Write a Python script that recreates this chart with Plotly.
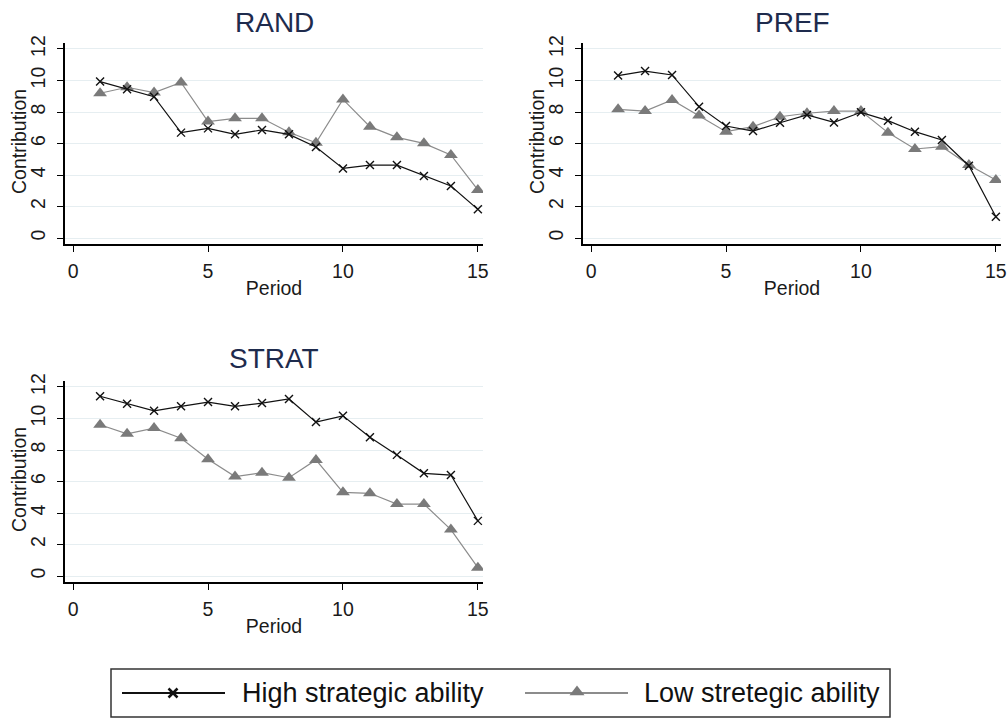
import plotly.graph_objects as go

periods = list(range(1, 16))

rand_high = [9.93, 9.44, 8.97, 6.69, 6.96, 6.58, 6.86, 6.58, 5.78, 4.42, 4.63, 4.63, 3.94, 3.30, 1.82]
rand_low = [9.19, 9.57, 9.23, 9.88, 7.39, 7.60, 7.60, 6.71, 6.05, 8.80, 7.07, 6.39, 6.01, 5.27, 3.05]

pref_high = [10.31, 10.60, 10.35, 8.34, 7.11, 6.79, 7.32, 7.81, 7.34, 7.98, 7.45, 6.75, 6.22, 4.59, 1.35]
pref_low = [8.17, 8.06, 8.76, 7.77, 6.75, 7.07, 7.70, 7.92, 8.06, 8.06, 6.69, 5.65, 5.80, 4.63, 3.68]

strat_high = [11.41, 10.94, 10.49, 10.77, 11.04, 10.77, 10.98, 11.24, 9.77, 10.17, 8.81, 7.69, 6.52, 6.41, 3.50]
strat_low = [9.60, 9.03, 9.39, 8.75, 7.41, 6.31, 6.56, 6.24, 7.37, 5.31, 5.25, 4.57, 4.57, 2.95, 0.53]

panel_titles = ["RAND", "PREF", "STRAT"]
series_names = ["High strategic ability", "Low stretegic ability"]
x_ticks = [0, 5, 10, 15]
y_ticks = [0, 2, 4, 6, 8, 10, 12]

W, H = 1008, 720
FONT = "Liberation Sans, Arial, sans-serif"
TEXT = "#1a1a1a"
TITLE_C = "#1e2b4d"
HIGH_C = "#111111"
LOW_LINE = "#8c8c8c"
LOW_MARK = "#7a7a7a"
GRID = "#e6eef1"
AX_FS = 19.5

panels = [
    (panel_titles[0], rand_high, rand_low, "x", "y"),
    (panel_titles[1], pref_high, pref_low, "x2", "y2"),
    (panel_titles[2], strat_high, strat_low, "x3", "y3"),
]

fig = go.Figure()
for title, hi, lo, xa, ya in panels:
    fig.add_trace(go.Scatter(
        x=periods, y=lo, mode="lines+markers", xaxis=xa, yaxis=ya,
        line=dict(color=LOW_LINE, width=1.2),
        marker=dict(symbol="triangle-up", size=12, color=LOW_MARK),
        showlegend=False, name=series_names[1]))
    fig.add_trace(go.Scatter(
        x=periods, y=hi, mode="lines+markers", xaxis=xa, yaxis=ya,
        line=dict(color=HIGH_C, width=1.2),
        marker=dict(symbol="x-thin", size=8, color=HIGH_C,
                    line=dict(color=HIGH_C, width=1.4)),
        showlegend=False, name=series_names[0]))


def px_x(p):
    return p / W


def px_y(p):
    return 1 - p / H


col_dom = [(65, 483), (583, 1001), (65, 483)]
row_dom = [(43, 244), (43, 244), (381, 582)]
ytitle_pos = [(19, 142), (537, 142), (19, 480)]

layout = dict(
    template="none",
    width=W, height=H, autosize=False,
    margin=dict(l=0, r=0, t=0, b=0, pad=0),
    paper_bgcolor="white", plot_bgcolor="rgba(0,0,0,0)",
    font=dict(family=FONT, color=TEXT, size=18),
)

annotations = []
for i, (title, hi, lo, xa, ya) in enumerate(panels):
    sx = "" if i == 0 else str(i + 1)
    x0, x1 = col_dom[i]
    y0, y1 = row_dom[i]
    layout["xaxis" + sx] = dict(
        domain=[px_x(x0), px_x(x1)], range=[-0.3, 15.19], automargin=False,
        anchor="y" + sx, tickvals=x_ticks, ticks="outside", ticklen=6,
        tickwidth=1.3, tickcolor="black",
        showline=True, linecolor="black", linewidth=1.5,
        showgrid=False, zeroline=False,
        tickfont=dict(size=AX_FS, color=TEXT, family=FONT),
        ticklabelstandoff=3,
        title=dict(text="Period", font=dict(size=AX_FS, color=TEXT, family=FONT), standoff=0),
    )
    layout["yaxis" + sx] = dict(
        domain=[px_y(y1), px_y(y0)], range=[-0.38, 12.38], automargin=False,
        anchor="x" + sx, tickvals=y_ticks, ticks="outside", ticklen=6,
        tickwidth=1.3, tickcolor="black", tickangle=-90,
        showline=True, linecolor="black", linewidth=1.5,
        showgrid=True, gridcolor=GRID, gridwidth=1, zeroline=False,
        tickfont=dict(size=AX_FS, color=TEXT, family=FONT),
        ticklabelstandoff=4,
    )
    annotations.append(dict(
        text=title, x=px_x((x0 + x1) / 2), y=px_y(22 if i < 2 else 358),
        xref="paper", yref="paper", xanchor="center", yanchor="middle",
        showarrow=False, font=dict(size=28, color=TITLE_C, family=FONT)))
    tx, ty = ytitle_pos[i]
    annotations.append(dict(
        text="Contribution", x=px_x(tx), y=px_y(ty), textangle=-90,
        xref="paper", yref="paper", xanchor="center", yanchor="middle",
        showarrow=False, font=dict(size=AX_FS, color=TEXT, family=FONT)))

# legend drawn on an overlay axis in pixel units
layout["xaxis4"] = dict(domain=[0, 1], range=[0, W], visible=False, anchor="y4",
                        fixedrange=True, automargin=False)
layout["yaxis4"] = dict(domain=[0, 1], range=[H, 0], visible=False, anchor="x4",
                        fixedrange=True, automargin=False)

leg_y = 693
fig.add_trace(go.Scatter(x=[122, 225], y=[leg_y, leg_y], mode="lines", xaxis="x4", yaxis="y4",
                         line=dict(color=HIGH_C, width=2), showlegend=False, hoverinfo="skip"))
fig.add_trace(go.Scatter(x=[173], y=[leg_y], mode="markers", xaxis="x4", yaxis="y4",
                         marker=dict(symbol="x-thin", size=9, color=HIGH_C, line=dict(color=HIGH_C, width=2.5)),
                         showlegend=False, hoverinfo="skip"))
fig.add_trace(go.Scatter(x=[525, 628], y=[leg_y, leg_y], mode="lines", xaxis="x4", yaxis="y4",
                         line=dict(color=LOW_LINE, width=2), showlegend=False, hoverinfo="skip"))
fig.add_trace(go.Scatter(x=[577], y=[leg_y - 1], mode="markers", xaxis="x4", yaxis="y4",
                         marker=dict(symbol="triangle-up", size=13, color=LOW_MARK),
                         showlegend=False, hoverinfo="skip"))

annotations.append(dict(text=series_names[0], x=px_x(240), y=px_y(leg_y), xref="paper", yref="paper",
                        xanchor="left", yanchor="middle", showarrow=False,
                        font=dict(size=27, color="#111111", family=FONT)))
annotations.append(dict(text=series_names[1], x=px_x(642), y=px_y(leg_y), xref="paper", yref="paper",
                        xanchor="left", yanchor="middle", showarrow=False,
                        font=dict(size=27, color="#111111", family=FONT)))

layout["annotations"] = annotations
layout["shapes"] = [dict(type="rect", xref="paper", yref="paper",
                         x0=px_x(111), x1=px_x(890), y0=px_y(717), y1=px_y(669),
                         line=dict(color="#333333", width=1.5), fillcolor="rgba(0,0,0,0)")]

fig.update_layout(**layout)
fig.write_html("out.html")
